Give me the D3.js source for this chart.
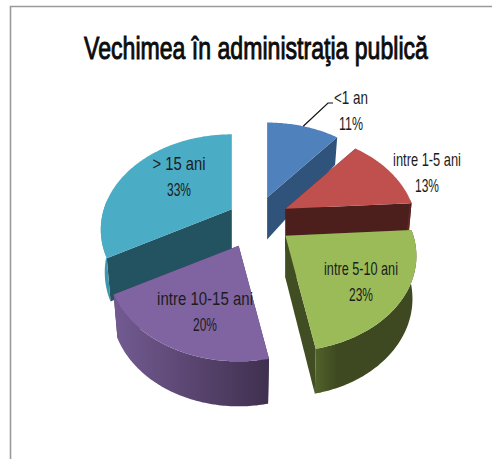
<!DOCTYPE html>
<html><head><meta charset="utf-8">
<script src="https://cdn.jsdelivr.net/npm/d3@7/dist/d3.min.js"></script>
<style>html,body{margin:0;padding:0;background:#fff}svg{display:block}</style>
</head><body><div id="chart"></div>
<script>
const titleText = "Vechimea în administraţia publică";
const categories = ["<1 an", "intre 1-5 ani", "intre 5-10 ani", "intre 10-15 ani", "> 15 ani"];
const values = [11, 13, 23, 20, 33];
const topColors = ["#4f81bd", "#c0504d", "#9bbb59", "#8064a2", "#4bacc6"];
const faceColors = ["#30537c", "#4d1f1c", "#414d22", "#45355a", "#235361"];
const sideLight = ["#4f81bd", "#7a2f2c", "#52632b", "#735b92", "#44a0b9"];
const sideDark = ["#30537c", "#4d1f1c", "#3e4921", "#40304f", "#3a8ea6"];
const explode = [0.27, 0.265, 0.28, 0.30, 0.225];
const labelAt = [[351, 98], [427, 160], [361, 269], [205, 299], [179, 164]];
const labelWidths = [34, 68, 74, 96, 53];

const W = 492, H = 459, cx = 256, cy = 219.5;
const ax = 128, ay = 91, k = 0.213;

const svg = d3.select("#chart").append("svg").attr("width", W).attr("height", H);
const defs = svg.append("defs");

const arcs = d3.pie().sort(null).startAngle(0).endAngle(2 * Math.PI)(values);

function project(u, v) {
  const w = 1 - k * v;
  return [ax * u / w, ay * v / w];
}
const ringPoint = a => project(Math.sin(a), -Math.cos(a));
const depth = v => 42 + (v > 0 ? 3 * v : 19 * v);

const slices = arcs.map((d, i) => {
  const mid = (d.startAngle + d.endAngle) / 2;
  const e = explode[i];
  const off = project(e * Math.sin(mid), -e * Math.cos(mid));
  const apex = [cx + off[0], cy + off[1]];
  const top = a => { const p = ringPoint(a); return [apex[0] + p[0], apex[1] + p[1]]; };
  const bot = a => {
    const p = ringPoint(a);
    return [apex[0] + p[0] * 0.97, apex[1] + p[1] + depth(-Math.cos(a))];
  };
  return {i, d, mid, apex, top, bot, sortKey: -Math.cos(mid)};
}).sort((a, b) => a.sortKey - b.sortKey);

const line = d3.line();
slices.forEach(s => {
  const {i, d, apex, top, bot} = s;
  const g = svg.append("g").attr("class", "slice");
  const apexBot = [apex[0], apex[1] + depth(0)];
  const angles = d3.range(d.startAngle, d.endAngle, 0.015).concat([d.endAngle]);

  [d.startAngle, d.endAngle].forEach(a => {
    g.append("path")
      .attr("d", line([apex, top(a), bot(a), apexBot]) + "Z")
      .attr("fill", faceColors[i]);
  });

  const gid = "side" + i;
  const grad = defs.append("linearGradient").attr("id", gid).attr("x1", 0).attr("x2", 1).attr("y1", 0).attr("y2", 0);
  grad.append("stop").attr("offset", "0%").attr("stop-color", sideLight[i]);
  grad.append("stop").attr("offset", i === 2 ? "22%" : "100%").attr("stop-color", sideDark[i]);
  const rimAngles = angles.filter(a => -Math.cos(a) > -0.1);
  if (rimAngles.length > 1) {
    g.append("path")
      .attr("d", line(rimAngles.map(top).concat(rimAngles.slice().reverse().map(bot))) + "Z")
      .attr("fill", `url(#${gid})`);
  }

  g.append("path")
    .attr("d", line([apex].concat(angles.map(top))) + "Z")
    .attr("fill", topColors[i]);
});

svg.append("path").attr("d", `M${W},6.5H10.5V${H}`).attr("fill", "none").attr("stroke", "#9a9a9a").attr("stroke-width", 1.6);

const font = "'Liberation Sans Narrow','Liberation Sans',sans-serif";
function fitted(str, x, y, size, width, weight, fill) {
  const t = svg.append("text").attr("text-anchor", "middle")
    .attr("font-family", font).attr("font-size", size).attr("font-weight", weight)
    .attr("fill", fill).text(str);
  const natural = t.node().getComputedTextLength();
  t.attr("transform", `translate(${x},${y}) scale(${width / natural},1)`);
  return t;
}

fitted(titleText, 256, 59, 32, 344, "normal", "#0c0c0c").attr("stroke", "#0c0c0c").attr("stroke-width", 1);

const total = d3.sum(values);
categories.forEach((c, i) => {
  const [x, y] = labelAt[i];
  fitted(c, x, y + 6, 18, labelWidths[i], "normal", "#1c1c1c");
  fitted(Math.round(values[i] / total * 100) + "%", x, y + 32, 18, 24, "normal", "#1c1c1c");
});

const first = slices.find(s => s.i === 0);
const rim = first.top(first.mid);
svg.append("path").attr("d", line([rim, [labelAt[0][0] - 23, labelAt[0][1] + 5], [labelAt[0][0] - 18, labelAt[0][1] + 5]]))
  .attr("fill", "none").attr("stroke", "#111").attr("stroke-width", 1.2);
</script></body></html>
